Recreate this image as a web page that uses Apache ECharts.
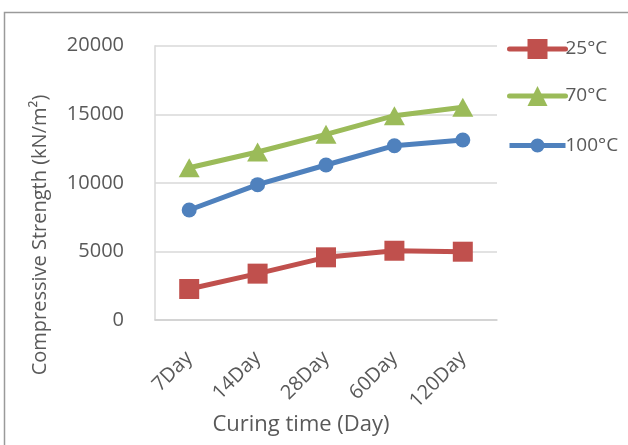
<!DOCTYPE html>
<html>
<head>
<meta charset="utf-8">
<script src="https://cdn.jsdelivr.net/npm/echarts@6/dist/echarts.min.js"></script>
<style>
  html, body { margin: 0; padding: 0; background: #fff; }
  #chart { width: 628px; height: 445px; }
</style>
</head>
<body>
<div id="chart"></div>
<script>
// Curing time categories
var categories = ['7Day', '14Day', '28Day', '60Day', '120Day'];
// Compressive strength (kN/m²) per curing temperature
var temp25 = [2260, 3380, 4570, 5050, 4980];
var temp70 = [11100, 12250, 13540, 14900, 15510];
var temp100 = [8020, 9870, 11300, 12710, 13120];
var seriesNames = ['25°C', '70°C', '100°C'];
var yTicks = { min: 0, max: 20000, interval: 5000 };

var FONT = '"Open Sans", "Noto Sans", sans-serif';
var TXT = '#595959';

// legend icon for the circle series: thick bar with a small dot,
// framed to the full 56x25 icon box so it is not stretched
var circleIcon = 'path://M0,0 L0.01,0 Z M0,25 L0.01,25 Z ' +
  'M0,10 L56,10 L56,15 L0,15 Z ' +
  'M35,12.5 A7,7 0 1,1 21,12.5 A7,7 0 1,1 35,12.5 Z';

var chart = echarts.init(document.getElementById('chart'), null, { renderer: 'canvas' });

function lineSeries(name, data, color, symbol, size) {
  return {
    name: name,
    type: 'line',
    data: data,
    symbol: symbol,
    symbolSize: size,
    showAllSymbol: true,
    lineStyle: { color: color, width: 5 },
    itemStyle: { color: color },
    emphasis: { disabled: true },
    animation: false
  };
}

chart.setOption({
  backgroundColor: '#ffffff',
  animation: false,
  grid: { left: 155, right: 131, top: 45.7, bottom: 125, containLabel: false },
  legend: {
    orient: 'vertical',
    left: 502,
    top: 34,
    itemWidth: 56,
    itemHeight: 25,
    itemGap: 27,
    data: [
      { name: seriesNames[0] },
      { name: seriesNames[1] },
      { name: seriesNames[2], icon: circleIcon }
    ],
    lineStyle: { width: 5, cap: 'round' },
    textStyle: { fontFamily: FONT, fontSize: 19, color: TXT, padding: [0, 0, 0, -5] }
  },
  xAxis: {
    type: 'category',
    data: categories,
    boundaryGap: true,
    axisLine: { show: true, lineStyle: { color: '#cfcfcf', width: 1.5 } },
    axisTick: { show: false },
    axisLabel: {
      rotate: 45,
      margin: 35,
      interval: 0,
      fontFamily: FONT,
      fontSize: 20,
      color: TXT
    },
    splitLine: { show: false }
  },
  yAxis: {
    type: 'value',
    min: yTicks.min,
    max: yTicks.max,
    interval: yTicks.interval,
    axisLine: { show: true, lineStyle: { color: '#d9d9d9', width: 1.5 } },
    axisTick: { show: false },
    axisLabel: {
      margin: 31,
      fontFamily: FONT,
      fontSize: 20,
      color: TXT,
      formatter: function (v) { return String(v); }
    },
    splitLine: { show: true, lineStyle: { color: '#d9d9d9', width: 1.5 } }
  },
  series: [
    lineSeries(seriesNames[0], temp25, '#C0504D', 'rect', 20),
    lineSeries(seriesNames[1], temp70, '#9BBB59', 'triangle', [21, 19]),
    lineSeries(seriesNames[2], temp100, '#4F81BD', 'circle', 15)
  ],
  graphic: [
    {
      type: 'rect',
      shape: { x: 4.5, y: 12.5, width: 700, height: 500 },
      style: { fill: 'none', stroke: '#9a9a9a', lineWidth: 1.5 },
      silent: true,
      z: -1
    },
    {
      type: 'text',
      x: 40,
      y: 235,
      rotation: Math.PI / 2,
      style: {
        text: 'Compressive Strength (kN/m²)',
        fontFamily: FONT,
        fontSize: 20,
        fill: TXT,
        align: 'center',
        verticalAlign: 'middle'
      },
      silent: true
    },
    {
      type: 'text',
      x: 301,
      y: 425,
      style: {
        text: 'Curing time (Day)',
        fontFamily: FONT,
        fontSize: 22,
        fill: TXT,
        align: 'center',
        verticalAlign: 'middle'
      },
      silent: true
    }
  ]
});
</script>
</body>
</html>
